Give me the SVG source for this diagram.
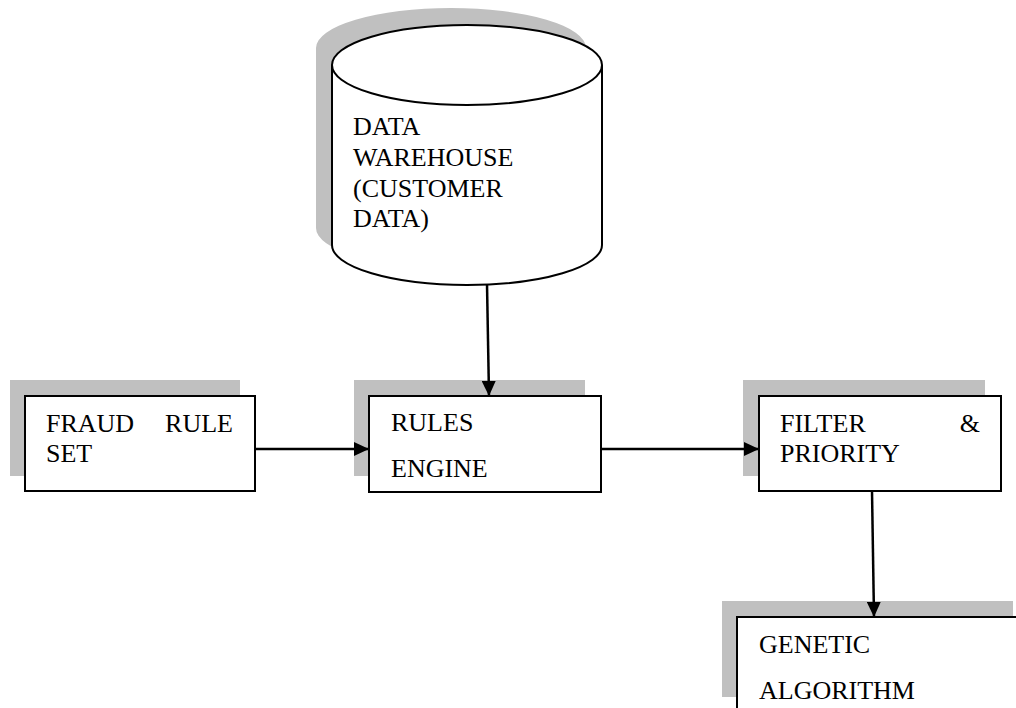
<svg xmlns="http://www.w3.org/2000/svg" width="1016" height="708" viewBox="0 0 1016 708">
  <style>
    .shadow { fill: #c0c0c0; stroke: none; }
    .box { fill: #ffffff; stroke: #000000; stroke-width: 2; }
    .label { font-family: "Liberation Serif", "Times New Roman", serif; font-size: 26px; fill: #000000; }
    .conn { stroke: #000000; stroke-width: 2.5; fill: none; marker-end: url(#arrow); }
  </style>
  <defs>
    <marker id="arrow" markerUnits="userSpaceOnUse" markerWidth="16" markerHeight="14" refX="15" refY="7" orient="auto">
      <path d="M0,0 L15,7 L0,14 Z" fill="#000000"/>
    </marker>
  </defs>
  <rect width="1016" height="708" fill="#ffffff"/>

  <!-- Data warehouse cylinder -->
  <g id="data-warehouse">
    <path class="shadow" transform="translate(-16,-17)" d="M332,65 A135,40 0 0 1 602,65 L602,245 A135,40 0 0 1 332,245 Z"/>
    <path class="box" d="M332,65 A135,40 0 0 1 602,65 L602,245 A135,40 0 0 1 332,245 Z"/>
    <path class="box" fill="none" d="M332,65 A135,40 0 0 0 602,65"/>
    <text class="label" x="353" y="135">DATA</text>
    <text class="label" x="353" y="166">WAREHOUSE</text>
    <text class="label" x="353" y="197">(CUSTOMER</text>
    <text class="label" x="353" y="227">DATA)</text>
  </g>

  <!-- Fraud rule set -->
  <g id="fraud-rule-set">
    <rect class="shadow" x="10" y="380" width="230" height="96"/>
    <rect class="box" x="25" y="396" width="230" height="95"/>
    <text class="label" x="46" y="432">FRAUD</text>
    <text class="label" x="233" y="432" text-anchor="end">RULE</text>
    <text class="label" x="46" y="462">SET</text>
  </g>

  <!-- Rules engine -->
  <g id="rules-engine">
    <rect class="shadow" x="354" y="380" width="231" height="96"/>
    <rect class="box" x="369" y="396" width="232" height="96"/>
    <text class="label" x="391" y="431">RULES</text>
    <text class="label" x="391" y="477">ENGINE</text>
  </g>

  <!-- Filter and priority -->
  <g id="filter-priority">
    <rect class="shadow" x="743" y="380" width="242" height="96"/>
    <rect class="box" x="759" y="396" width="242" height="95"/>
    <text class="label" x="780" y="432">FILTER</text>
    <text class="label" x="980" y="432" text-anchor="end">&amp;</text>
    <text class="label" x="780" y="462">PRIORITY</text>
  </g>

  <!-- Genetic algorithm -->
  <g id="genetic-algorithm">
    <rect class="shadow" x="722" y="601" width="291" height="96"/>
    <rect class="box" x="737" y="617" width="291" height="96"/>
    <text class="label" x="759" y="653">GENETIC</text>
    <text class="label" x="759" y="699">ALGORITHM</text>
  </g>

  <!-- Connectors -->
  <g id="connectors">
    <line class="conn" x1="487" y1="284" x2="489" y2="396"/>
    <line class="conn" x1="255" y1="449" x2="369" y2="449"/>
    <line class="conn" x1="601" y1="449" x2="759" y2="449"/>
    <line class="conn" x1="872" y1="491" x2="874" y2="617"/>
  </g>
</svg>
